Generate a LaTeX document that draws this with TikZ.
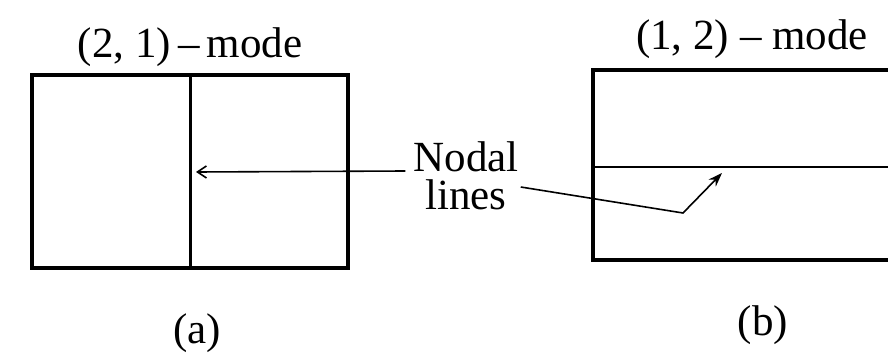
\documentclass[tikz,border=0pt]{standalone}
\usepackage{fontspec}
\setmainfont{Liberation Serif}
\usetikzlibrary{arrows.meta}
\begin{document}
\begin{tikzpicture}[x=1pt,y=-1pt,
  plate/.style={draw,line width=4.5pt,inner sep=0pt,outer sep=0pt,anchor=north west},
  lbl/.style={font=\fontsize{43}{38}\selectfont,inner sep=2pt},
  nodeline/.style={line width=3pt},
  lead/.style={line width=1.6pt}]
\clip (0,0) rectangle (888,353);
\node[plate,minimum width=316pt,minimum height=193pt] (A) at (32,75) {};
\node[plate,minimum width=420pt,minimum height=190pt] (B) at (593,70) {};
\draw[nodeline] (A.north) -- (A.south);
\draw[line width=2pt] ([yshift=-2pt]B.west) -- ([yshift=-2pt]B.east);
\node[lbl,anchor=base] (ta) at (190,58) {(2, 1)\,–\,mode};
\node[lbl,anchor=base] (tb) at (752,50) {(1, 2) – mode};
\node[lbl,anchor=base] (ca) at (197,343) {(a)};
\node[lbl,anchor=base] (cb) at (763,335) {(b)};
\node[lbl,align=center] (nl) at (466,176) {Nodal\\lines};
\coordinate (tipa) at (196,172);
\coordinate (bend) at (683,213);
\coordinate (tipb) at (722,173);
\draw[lead,-{Straight Barb[length=9pt,width=12pt]}] ([yshift=5pt,xshift=-6pt]nl.west) -- (tipa);
\draw[lead,-{Stealth[length=14pt,width=10pt]}] ([yshift=-11pt]nl.east) -- (bend) -- (tipb);
\end{tikzpicture}
\end{document}
